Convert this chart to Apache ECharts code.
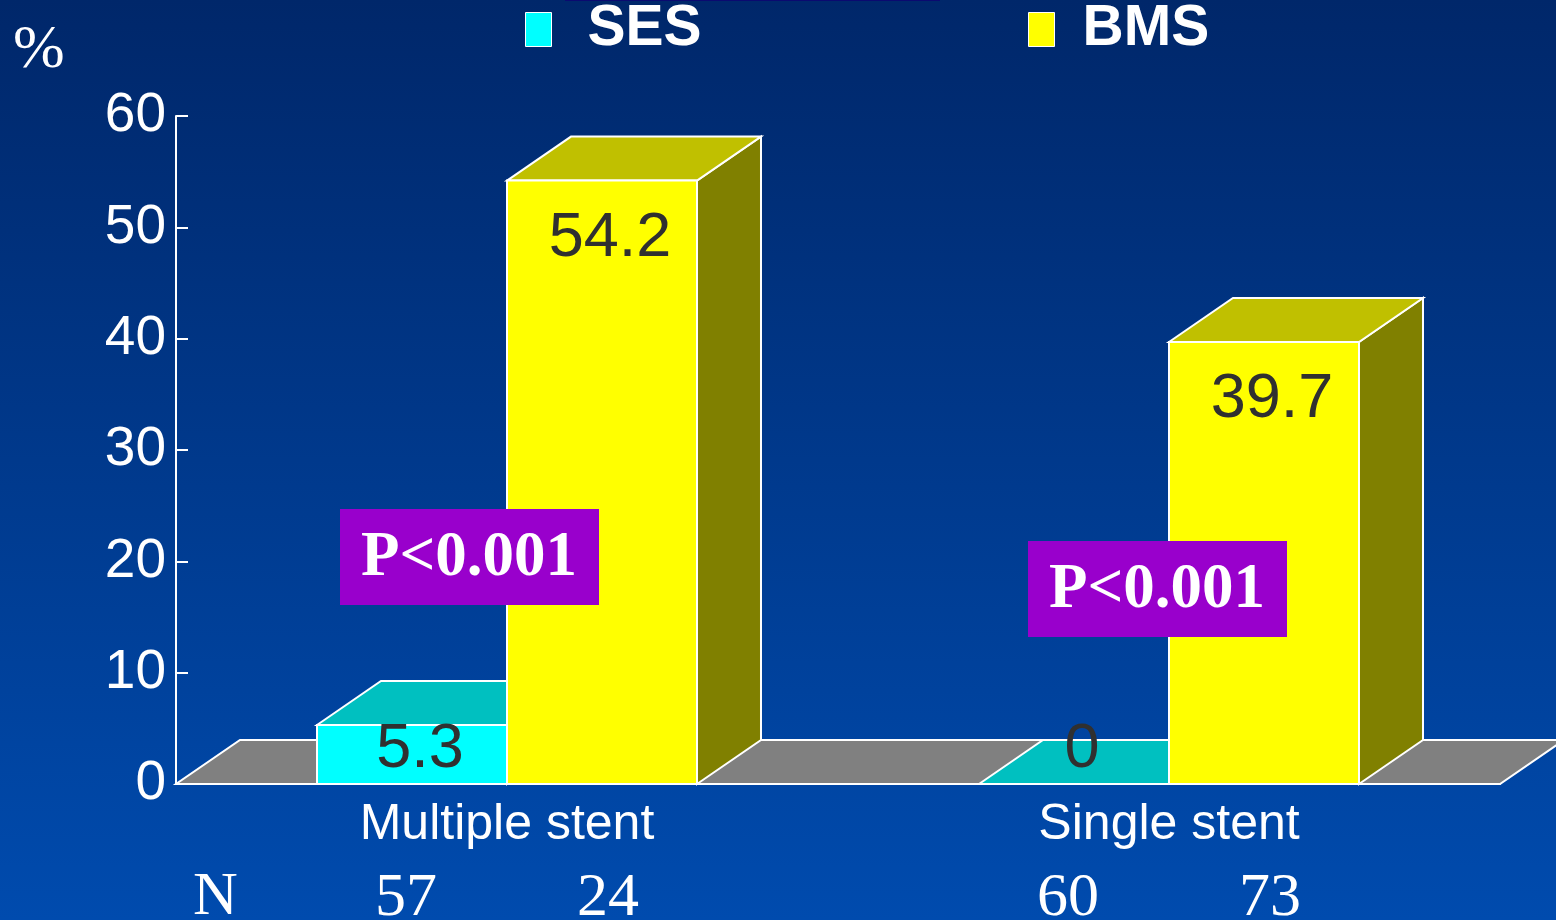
<!DOCTYPE html>
<html><head><meta charset="utf-8">
<script src="https://cdn.jsdelivr.net/npm/echarts@6/dist/echarts.min.js"></script>
<style>html,body{margin:0;padding:0;background:#003580}#c{width:1556px;height:920px}</style>
</head><body><div id="c"></div>
<script>
// ---- data ----
const categories = ['Multiple stent', 'Single stent'];
const seriesNames = ['SES', 'BMS'];
const sesValues = [5.3, 0];
const bmsValues = [54.2, 39.7];
const sesN = [57, 60];
const bmsN = [24, 73];
const yMin = 0, yMax = 60, yInterval = 10;
const pTexts = ['P<0.001', 'P<0.001'];
const nLabel = 'N';
const unitLabel = '%';

// ---- styles ----
const DX = 64, DY = -44;
const SANS = '"Liberation Sans", Arial, sans-serif';
const SERIF = '"Liberation Serif", "Times New Roman", serif';
const facesSES = {front: '#00ffff', top: '#00c0c0', side: '#008080'};
const facesBMS = {front: '#ffff00', top: '#c0c000', side: '#808000'};

function barRender(side, faces, ns) {
  return function (params, api) {
    const cat = api.value(0), val = api.value(1);
    const top = api.coord([cat, val]);
    const base = api.coord([cat, 0]);
    const band = api.size([1, 0])[0];
    const w = band * 0.287;
    const x0 = side < 0 ? top[0] - w : top[0];
    const x1 = x0 + w;
    const yT = top[1], yB = base[1];
    const edge = {stroke: '#ffffff', lineWidth: 2, lineJoin: 'miter'};
    const children = [];
    children.push({type: 'polygon', shape: {points: [[x1, yB], [x1 + DX, yB + DY], [x1 + DX, yT + DY], [x1, yT]]},
      style: Object.assign({fill: faces.side}, edge)});
    children.push({type: 'polygon', shape: {points: [[x0, yT], [x0 + DX, yT + DY], [x1 + DX, yT + DY], [x1, yT]]},
      style: Object.assign({fill: faces.top}, edge)});
    if (yB - yT > 0.5) {
      children.push({type: 'rect', shape: {x: x0, y: yT, width: w, height: yB - yT},
        style: Object.assign({fill: faces.front}, edge)});
    }
    const ly = Math.min(yT + 58, yB - 34);
    children.push({type: 'text', style: {text: String(val), x: (x0 + x1) / 2 + 8, y: ly, align: 'center',
      verticalAlign: 'middle', fill: '#303030', font: '63px ' + SANS}});
    children.push({type: 'text', style: {text: String(ns[params.dataIndex]), x: (x0 + x1) / 2 + side * 6, y: yB + 115,
      align: 'center', verticalAlign: 'middle', fill: '#ffffff', font: '62px ' + SERIF}});
    return {type: 'group', children: children};
  };
}

function floorRender(params, api) {
  const cs = params.coordSys;
  const y0 = api.coord([0, 0])[1];
  return {type: 'polygon', shape: {points: [[cs.x, y0], [cs.x + cs.width, y0], [cs.x + cs.width + DX, y0 + DY], [cs.x + DX, y0 + DY]]},
    style: {fill: '#808080', stroke: '#ffffff', lineWidth: 2}};
}

function pBox(left, top, text) {
  return {type: 'group', left: left, top: top, z: 100, children: [
    {type: 'rect', z: 100, shape: {x: 0, y: 0, width: 259, height: 96}, style: {fill: '#9900cc'}},
    {type: 'text', z: 101, style: {text: text, x: 129, y: 50, align: 'center', verticalAlign: 'middle',
      fill: '#ffffff', font: 'bold 63px ' + SERIF}}
  ]};
}

function legendFor(name, left, pad) {
  return {
    left: left, top: 1, padding: 0, icon: 'rect', itemWidth: 26, itemHeight: 34, data: [name],
    itemStyle: {borderColor: '#ffffff', borderWidth: 1},
    textStyle: {color: '#ffffff', fontSize: 57, fontWeight: 'bold', fontFamily: SANS, padding: [0, 0, 0, pad]},
    selectedMode: false
  };
}

const chart = echarts.init(document.getElementById('c'), null, {renderer: 'canvas'});
chart.setOption({
  animation: false,
  backgroundColor: {type: 'linear', x: 0, y: 0, x2: 0, y2: 1,
    colorStops: [{offset: 0, color: '#00276a'}, {offset: 1, color: '#004bae'}]},
  grid: {left: 176, right: 56, top: 116, bottom: 136, containLabel: false},
  legend: [legendFor(seriesNames[0], 525, 31), legendFor(seriesNames[1], 1028, 23)],
  xAxis: {
    type: 'category', data: categories, boundaryGap: true, z: 10,
    axisLine: {lineStyle: {color: '#ffffff', width: 2}},
    axisTick: {inside: true, length: 12, lineStyle: {color: '#ffffff', width: 2}},
    axisLabel: {color: '#ffffff', fontSize: 50, fontFamily: SANS, margin: 16}
  },
  yAxis: {
    type: 'value', min: yMin, max: yMax, interval: yInterval, z: 10,
    axisLine: {show: true, lineStyle: {color: '#ffffff', width: 2}},
    axisTick: {show: true, inside: true, length: 12, lineStyle: {color: '#ffffff', width: 2}},
    splitLine: {show: false},
    axisLabel: {color: '#ffffff', fontSize: 55, fontFamily: SANS, margin: 10}
  },
  series: [
    {type: 'custom', name: 'floor', renderItem: floorRender, data: [[0, 0]], z: 1, silent: true},
    {type: 'custom', name: seriesNames[0], itemStyle: {color: facesSES.front},
      renderItem: barRender(-1, facesSES, sesN), data: sesValues.map((v, i) => [i, v]), z: 2},
    {type: 'custom', name: seriesNames[1], itemStyle: {color: facesBMS.front},
      renderItem: barRender(1, facesBMS, bmsN), data: bmsValues.map((v, i) => [i, v]), z: 2}
  ],
  graphic: [
    {type: 'rect', left: 565, top: 0, z: 100, shape: {width: 375, height: 1}, style: {fill: '#0a0a70'}},
    {type: 'text', left: 13, top: 20, z: 100, style: {text: unitLabel, fill: '#ffffff', font: '62px ' + SERIF}},
    {type: 'text', left: 193, top: 867, z: 100, style: {text: nLabel, fill: '#ffffff', font: '62px ' + SERIF}},
    pBox(340, 509, pTexts[0]),
    pBox(1028, 541, pTexts[1])
  ]
});
</script></body></html>
